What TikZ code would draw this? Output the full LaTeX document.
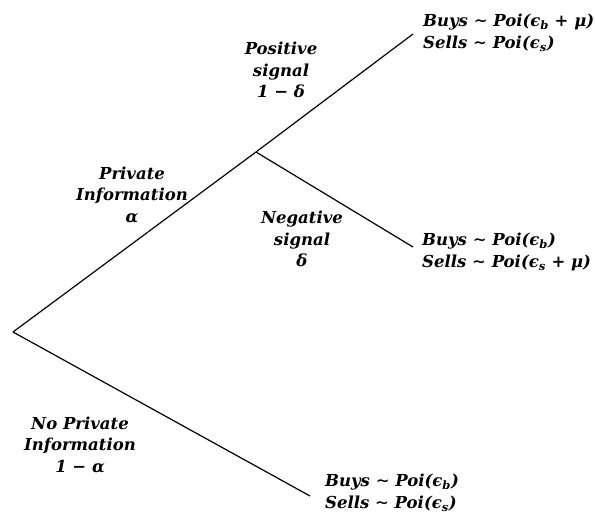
\documentclass[tikz,border=0pt]{standalone}
\usepackage{fontspec}
\setmainfont{DejaVu Serif}
\newcommand{\sbs}[1]{\textsubscript{#1}}
\begin{document}
\begin{tikzpicture}[x=1pt,y=-1pt,
  lbl/.style={font=\bfseries\itshape\fontsize{16.5}{21.5}\selectfont, align=center, inner sep=0pt},
  outc/.style={font=\bfseries\itshape\fontsize{16.5}{22}\selectfont, align=left, inner sep=0pt, anchor=west},
  branch/.style={line width=1.2pt}]
\useasboundingbox (0,0) rectangle (595,514);
\coordinate (root) at (13,332);
\coordinate (mid) at (256,152);
\coordinate (pe) at (413,34);
\coordinate (ne) at (413,247);
\coordinate (le) at (310,496);
\draw[branch] (root) -- (mid);
\draw[branch] (mid) -- (pe);
\draw[branch] (mid) -- (ne);
\draw[branch] (root) -- (le);
\node[outc] (po) at (423,33) {Buys ∼ Poi(ϵ\sbs{b} + μ)\\Sells ∼ Poi(ϵ\sbs{s})};
\node[outc] (no) at (422,252) {Buys ∼ Poi(ϵ\sbs{b})\\Sells ∼ Poi(ϵ\sbs{s} + μ)};
\node[outc] (lo) at (325,493) {Buys ∼ Poi(ϵ\sbs{b})\\Sells ∼ Poi(ϵ\sbs{s})};
\node[lbl] (ps) at (281,70) {Positive\\signal\\1 − δ};
\node[lbl] (pi) at (132,195) {Private\\Information\\α};
\node[lbl] (ns) at (302,239) {Negative\\signal\\δ};
\node[lbl] (np) at (80,445) {No Private\\Information\\1 − α};
\end{tikzpicture}
\end{document}
